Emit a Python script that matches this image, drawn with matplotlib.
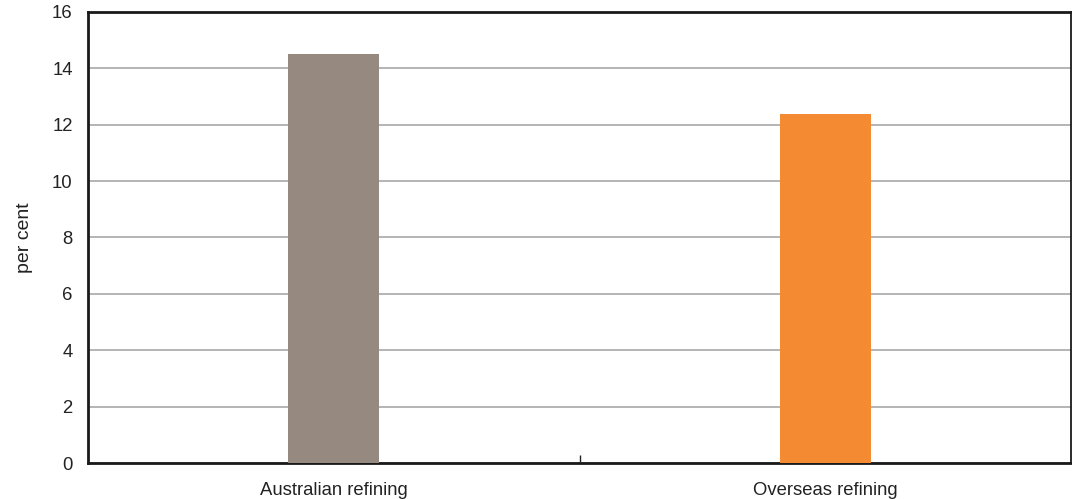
import matplotlib
matplotlib.use("Agg")
import matplotlib.pyplot as plt
from matplotlib.ticker import FixedLocator

categories = ["Australian refining", "Overseas refining"]
values = [14.5, 12.37]
colors = ["#968a80", "#f48a31"]
yticks = [0, 2, 4, 6, 8, 10, 12, 14, 16]

plt.rcParams['font.family'] = ['Liberation Sans', 'DejaVu Sans']

fig = plt.figure(figsize=(10.72, 4.99), dpi=100)
ax = fig.add_axes([0.0821, 0.0721, 0.9170, 0.9039])

x = list(range(len(categories)))
ax.bar(x, values, width=0.186, color=colors, zorder=3)
ax.set_xlim(-0.5, 1.5)
ax.set_ylim(0, 16)
ax.set_yticks(yticks)
ax.set_yticklabels([str(v) for v in yticks], fontsize=13.3, color="#222222")
ax.set_xticks(x)
ax.set_xticklabels(categories, fontsize=13.3, color="#222222")
ax.tick_params(axis='x', which='major', length=0, pad=14)
ax.tick_params(axis='y', which='major', length=0, pad=11)
ax.xaxis.set_minor_locator(FixedLocator([0.5]))
ax.tick_params(axis='x', which='minor', direction='in', length=6, width=1, color="#222222")
ax.yaxis.grid(True, color="#a8a8a8", linewidth=1.2, zorder=1)
ax.set_axisbelow(True)
for s in ax.spines.values():
    s.set_linewidth(2)
    s.set_color("#1a1a1a")
ax.spines['right'].set_linewidth(1.3)
ax.spines['bottom'].set_zorder(2)
ax.set_ylabel("per cent", fontsize=14, color="#222222", labelpad=14)

fig.savefig("out.png", dpi=100)
